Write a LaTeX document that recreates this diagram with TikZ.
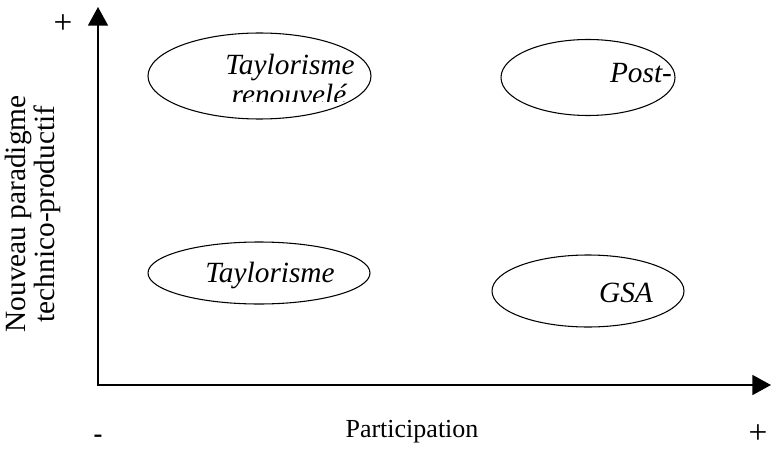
\documentclass[tikz,border=0pt]{standalone}
\usepackage{fontspec}
\setmainfont{Liberation Serif}
\usetikzlibrary{arrows.meta,positioning,shapes.geometric}

\tikzset{
	zone/.style={draw, ellipse, line width=0.8pt, inner sep=0pt},
	axis/.style={line width=1.3pt, {Triangle[length=14pt,width=15pt]}-{Triangle[length=14pt,width=15pt]}},
	zonetext/.style={font=\fontsize{22}{24}\selectfont\itshape, inner sep=0pt, anchor=base},
	axistext/.style={font=\fontsize{19.5}{19.5}\selectfont, inner sep=0pt},
	signtext/.style={font=\fontsize{25}{25}\selectfont, inner sep=0pt},
}

\begin{document}
\begin{tikzpicture}[x=0.75pt, y=-0.75pt]
			\useasboundingbox (0,0) rectangle (777,449);
			% axes
			\coordinate (origin) at (98,385);
			\coordinate (ytop)   at (98,7);
			\coordinate (xend)   at (771,385);
			\draw[axis] (ytop) |- (xend);
			\node[signtext] (yplus)  at (63,24)  {+};
			\node[signtext] (xplus)  at (758,434) {+};
			\node[signtext, font=\fontsize{20}{20}\selectfont\bfseries] (xminus) at (98,439) {-};
			\node[axistext, anchor=base] (xlabel) at (412,437) {Participation};
			\node[axistext, font=\fontsize{22}{19.5}\selectfont, rotate=90, align=center] (ylabel) at (33,214) {Nouveau paradigme\\technico-productif};
			% zones
			\node[zone, minimum width=167.25pt, minimum height=64.5pt] (renew) at (259.5,76)  {};
			\node[zone, minimum width=130.5pt,  minimum height=57pt]   (post)  at (588,77.5)  {};
			\node[zone, minimum width=166.5pt,  minimum height=46.5pt] (taylor) at (259,273)  {};
			\node[zone, minimum width=144pt,    minimum height=54pt]   (gsa)   at (588,291)   {};
			\node[zonetext] (renewtop) at (290,75) {Taylorisme};
			\begin{scope}
				\clip (renew.west |- 0,60) rectangle (renew.east |- 0,102);
				\node[zonetext] (renewbot) at (289,105) {renouvelé};
			\end{scope}
			\node[zonetext] (posttop) at (641,83) {Post-};
			\node[zonetext] (taylortext) at (270,282) {Taylorisme};
			\node[zonetext] (gsatext) at (626,302) {GSA};
\end{tikzpicture}
\end{document}
